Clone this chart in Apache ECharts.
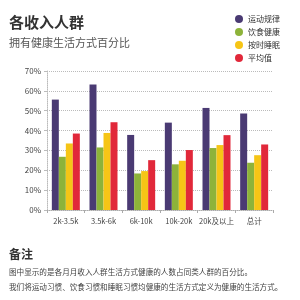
<!DOCTYPE html>
<html><head><meta charset="utf-8">
<script src="https://cdn.jsdelivr.net/npm/echarts@6/dist/echarts.min.js"></script>
<style>html,body{margin:0;padding:0;background:#fff;}#c{width:300px;height:300px;}</style>
</head><body><div id="c"></div>
<script>
const categories = ['2k-3.5k','3.5k-6k','6k-10k','10k-20k','20k及以上','总计'];
const exercise = [55.6, 63.2, 37.8, 44.0, 51.4, 48.6];
const diet = [26.8, 31.5, 18.4, 23.0, 31.2, 23.8];
const sleep = [33.5, 38.8, 19.6, 24.8, 32.7, 27.6];
const average = [38.5, 44.2, 25.1, 30.2, 37.7, 33.0];
const seriesNames = ['运动规律','饮食健康','按时睡眠','平均值'];
const colors = ['#4a3a73','#8db33a','#f6c516','#e1283a'];
const yTicks = [0,10,20,30,40,50,60,70];

const font = '"Noto Sans CJK SC", "Noto Sans", sans-serif';
const chart = echarts.init(document.getElementById('c'));
const values = [exercise, diet, sleep, average];
chart.setOption({
  animation: false,
  textStyle: {fontFamily: font},
  color: colors,
  title: [
    {text: '各收入人群', left: 4, top: 10, textStyle: {fontSize: 15, fontWeight: 'bold', color: '#333', fontFamily: font}},
    {text: '拥有健康生活方式百分比', left: 4, top: 32, textStyle: {fontSize: 11, fontWeight: 'normal', color: '#555', fontFamily: font}},
    {text: '备注', left: 4, top: 243, textStyle: {fontSize: 12, fontWeight: 'bold', color: '#333', fontFamily: font}},
    {text: '图中显示的是各月月收入人群生活方式健康的人数占同类人群的百分比。', left: 4, top: 263, textStyle: {fontSize: 7.6, fontWeight: 'normal', color: '#444', fontFamily: font}},
    {text: '我们将运动习惯、饮食习惯和睡眠习惯均健康的生活方式定义为健康的生活方式。', left: 4, top: 278, textStyle: {fontSize: 7.6, fontWeight: 'normal', color: '#444', fontFamily: font}}
  ],
  legend: {
    orient: 'vertical', left: 230, top: 10, itemGap: 5, itemWidth: 8, itemHeight: 8, icon: 'circle',
    textStyle: {fontSize: 8, color: '#333', fontFamily: font},
    data: seriesNames
  },
  grid: {left: 47, right: 27, top: 71, bottom: 90},
  xAxis: {
    type: 'category', data: categories,
    axisLine: {lineStyle: {color: '#aaa', type: 'dotted'}},
    axisTick: {show: true, length: 3, lineStyle: {color: '#aaa'}},
    axisLabel: {fontSize: 7.5, color: '#444', margin: 7, interval: 0}
  },
  yAxis: {
    type: 'value', min: yTicks[0], max: yTicks[yTicks.length-1], interval: 10,
    axisLine: {show: true, lineStyle: {color: '#bbb', type: 'dotted'}},
    axisTick: {show: true, length: 3, lineStyle: {color: '#bbb'}},
    axisLabel: {fontSize: 8, color: '#444', formatter: '{value}%', margin: 6},
    splitLine: {lineStyle: {color: '#bbb', type: 'dotted'}}
  },
  series: seriesNames.map((n, i) => ({
    name: n, type: 'bar', data: values[i], barWidth: 7, barGap: '0%', barCategoryGap: '28%',
    itemStyle: {color: colors[i]}
  }))
});
</script></body></html>
